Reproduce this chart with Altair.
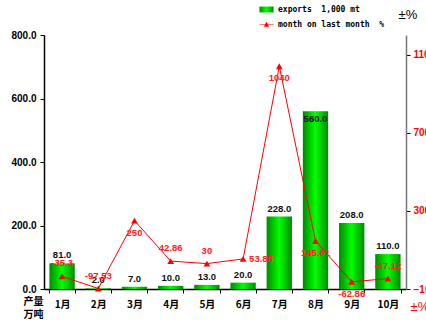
import altair as alt
import pandas as pd

months = ["1月", "2月", "3月", "4月", "5月", "6月", "7月", "8月", "9月", "10月"]
exports = [81.0, 2.0, 7.0, 10.0, 13.0, 20.0, 228.0, 560.0, 208.0, 110.0]
mom = [-35.3, -97.53, 250, 42.86, 30, 53.85, 1040, 145.61, -62.86, -47.12]
mom_labels = ["-35.3", "-97.53", "250", "42.86", "30", "53.85", "1040", "145.61", "-62.86", "-47.12"]
left_ticks = [0, 200, 400, 600, 800]
right_ticks = [-100, 300, 700, 1100]

LEG1 = "exports\u00a0\u00a01,000\u00a0mt"
LEG2 = "month\u00a0on\u00a0last\u00a0month\u00a0\u00a0%"

df = pd.DataFrame({"month": months, "exports": exports, "mom": mom, "momlab": mom_labels})

x = alt.X("month:N", sort=months,
          scale=alt.Scale(paddingInner=0.3, paddingOuter=0.15),
          axis=alt.Axis(title="±%", titleColor="red", titleFontSize=13, titleFontWeight="normal",
                        titleX=366, titleY=17, titleAlign="left", titleBaseline="middle",
                        labelAngle=0, labelFont="Noto Sans CJK SC", labelFontWeight="bold",
                        labelFontSize=10, labelColor="black", labelPadding=6,
                        tickBand="extent", tickSize=4, tickColor="black",
                        domainColor="black", domainWidth=1.5))

grad = alt.Gradient(gradient="linear", x1=0, x2=1, y1=0, y2=0,
                    stops=[alt.GradientStop(color="#008a00", offset=0),
                           alt.GradientStop(color="#00ff00", offset=0.5),
                           alt.GradientStop(color="#008a00", offset=1)])

yl = alt.Y("exports:Q", scale=alt.Scale(domain=[0, 800], nice=False),
           axis=alt.Axis(values=left_ticks, format=".1f", grid=False,
                         title=["产量", "万吨"], titleAngle=0, titleX=-11, titleY=261,
                         titleAlign="center", titleBaseline="top", titleFont="Noto Sans CJK SC",
                         titleFontSize=10, titleFontWeight="bold", titleLineHeight=13,
                         labelFont="Liberation Sans", labelFontSize=10, labelFontWeight="bold",
                         labelColor="black", tickColor="black", domainColor="black",
                         domainWidth=1.5, tickSize=4, labelPadding=4))

base = alt.Chart(df).transform_calculate(s1="'" + LEG1 + "'", s2="'" + LEG2 + "'")

bars = base.mark_bar(color=grad).encode(
    x=x, y=yl,
    opacity=alt.Opacity("s1:N", scale=alt.Scale(domain=[LEG1], range=[1]),
                        legend=alt.Legend(title=None, orient="none", legendX=215, legendY=-33,
                                          symbolType="M-1,-0.42H1V0.42H-1Z", symbolSize=200,
                                          symbolFillColor="#00c800", symbolStrokeWidth=0,
                                          labelFont="DejaVu Sans Mono", labelFontSize=8,
                                          labelFontWeight="bold", labelColor="black",
                                          padding=0)))

inside = ["8月"]
bar_lab_above = base.transform_filter(~alt.FieldOneOfPredicate(field="month", oneOf=inside)).mark_text(
    dy=-8, font="Liberation Sans", fontSize=9.5, fontWeight="bold", color="#111111").encode(
    x=x, y=yl, text=alt.Text("exports:Q", format=".1f"))
bar_lab_inside = base.transform_filter(alt.FieldOneOfPredicate(field="month", oneOf=inside)).mark_text(
    dy=8, font="Liberation Sans", fontSize=9.5, fontWeight="bold", color="#111111").encode(
    x=x, y=yl, text=alt.Text("exports:Q", format=".1f"))

yr = alt.Y("mom:Q", scale=alt.Scale(domain=[-100, 1200], nice=False),
           axis=alt.Axis(orient="right", values=right_ticks, format="d", grid=False,
                         title="±%", titleAngle=0, titleX=-8, titleY=-21, titleAlign="left",
                         titleBaseline="middle", titleFontSize=13, titleFontWeight="normal",
                         titleColor="black",
                         labelFont="Liberation Sans", labelFontSize=10, labelFontWeight="bold",
                         labelColor="red", tickColor="black", domainColor="#777777",
                         domainWidth=1.5, tickSize=4, labelPadding=3))

line = base.mark_line(color="red", strokeWidth=1).encode(x=x, y=yr)
pts = base.mark_point(shape="triangle-up", filled=True, color="red", size=45, opacity=1).encode(
    x=x, y=yr,
    opacity=alt.Opacity("s2:N", scale=alt.Scale(domain=[LEG2], range=[1]),
                        legend=alt.Legend(title=None, orient="none", legendX=215, legendY=-18,
                                          symbolType="M-1,-0.05H1V0.05H-1ZM-0.38,0.32L0,-0.38L0.38,0.32Z",
                                          symbolSize=200, symbolFillColor="red",
                                          symbolStrokeColor="red", symbolStrokeWidth=0.5,
                                          labelFont="DejaVu Sans Mono", labelFontSize=8,
                                          labelFontWeight="bold", labelColor="black",
                                          padding=0)))

above = ["1月", "2月", "4月", "5月", "10月"]
below = ["3月", "7月", "8月", "9月"]
right = ["6月"]

def mlab(group, **kw):
    return base.transform_filter(alt.FieldOneOfPredicate(field="month", oneOf=group)).mark_text(
        font="Liberation Sans", fontSize=9.5, fontWeight="bold", color="#ff2020", **kw).encode(
        x=x, y=yr, text="momlab:N")

lab_above = mlab(above, dy=-13)
lab_below = mlab(below, dy=12)
lab_right = mlab(right, dx=6, align="left")

left = alt.layer(bars, bar_lab_above, bar_lab_inside)
rightc = alt.layer(line, pts, lab_above, lab_below, lab_right)

chart = alt.layer(left, rightc).resolve_scale(y="independent", opacity="independent").resolve_legend(
    opacity="independent").properties(
    width=362, height=254,
    autosize=alt.AutoSizeParams(type="none"),
    padding={"left": 44, "top": 35, "right": 20, "bottom": 41},
    background="white",
).configure_view(stroke=None)

chart.save("out.html", embed_options={"renderer": "svg", "actions": False})
